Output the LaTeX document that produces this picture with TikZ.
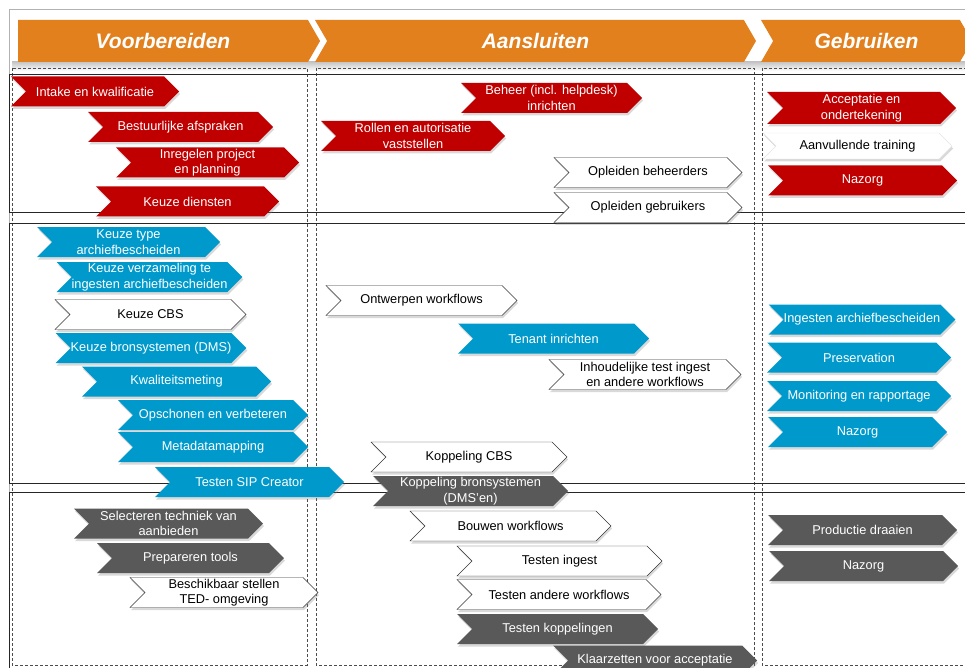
\documentclass[tikz,border=0pt]{standalone}
\usepackage{fontspec}
\setmainfont{Liberation Sans}
\usepackage{xcolor}
\usetikzlibrary{shapes.symbols, shadows}
\definecolor{phaseorange}{RGB}{226, 128, 30}
\definecolor{taskred}{RGB}{192, 0, 0}
\definecolor{taskblue}{RGB}{0, 153, 204}
\definecolor{taskgray}{RGB}{89, 89, 89}

\begin{document}
\begin{tikzpicture}[
    x=1pt, y=-1pt,
    phase/.style={signal, signal to=east, signal pointer angle=120, fill=phaseorange, text=white, minimum height=42pt, inner sep=0pt, font=\fontsize{21}{24}\selectfont\bfseries\itshape},
    task/.style={signal, signal from=west, signal to=east, signal pointer angle=90, minimum width=188pt, minimum height=30pt, inner xsep=0pt, inner ysep=1pt, align=center, font=\fontsize{12.8}{15.5}\selectfont, drop shadow={opacity=0.3, shadow xshift=1pt, shadow yshift=-2.5pt}},
    redtask/.style={task, fill=taskred, text=white},
    bluetask/.style={task, fill=taskblue, text=white},
    graytask/.style={task, fill=taskgray, text=white},
    whitetask/.style={task, fill=white, draw=black!80, thin},
    lane/.style={draw=black!85, line width=0.7pt},
    column/.style={draw=black!70, densely dashed, line width=0.6pt}
]
\useasboundingbox (0,0) rectangle (965,668);
\clip (0,0) rectangle (965,668);

% Frame, lanes and columns
\draw[gray!60, line width=0.8pt] (9,9) rectangle (980,690);
\shade[top color=gray!45, bottom color=white] (12,62) rectangle (965,71);
\draw[column] (12,68) rectangle (307,665);
\draw[column] (316,68) rectangle (754,665);
\draw[column] (762,68) rectangle (980,665);
\draw[lane] (9,74) rectangle (980,212);
\draw[lane] (9,223) rectangle (980,483);
\draw[lane] (9,492) rectangle (980,690);

% Phases
\node[phase, minimum width=302pt] (voorbereiden) at (163,41) {Voorbereiden};
\node[phase, signal from=west, minimum width=441pt] (aansluiten) at (535.5,41) {Aansluiten};
\node[phase, signal from=west, minimum width=211pt] (gebruiken) at (866.5,41) {Gebruiken};

% Voorbereiden
\node[redtask, minimum width=168pt] (intake) at (95,91.5) {Intake en kwalificatie};
\node[redtask, minimum width=185pt] (bestuur) at (180.5,127) {Bestuurlijke afspraken};
\node[redtask, minimum width=183pt] (inregelen) at (207.5,162.5) {Inregelen project\\en planning};
\node[redtask, minimum width=183pt] (diensten) at (187.5,201.5) {Keuze diensten};
\node[bluetask, minimum width=183pt] (type) at (128.5,242) {Keuze type\\archiefbescheiden};
\node[bluetask, minimum width=185pt] (verzameling) at (149.5,277) {Keuze verzameling te\\ingesten archiefbescheiden};
\node[whitetask, minimum width=191pt] (cbs) at (150.5,314.5) {Keuze CBS};
\node[bluetask, minimum width=190pt] (bron) at (151,348) {Keuze bronsystemen (DMS)};
\node[bluetask, minimum width=189pt] (kwaliteit) at (176.5,381.5) {Kwaliteitsmeting};
\node[bluetask, minimum width=190pt] (opschonen) at (213,415) {Opschonen en verbeteren};
\node[bluetask, minimum width=190pt] (mapping) at (213,447) {Metadatamapping};
\node[bluetask, minimum width=189pt] (sip) at (249.5,482) {Testen SIP Creator};
\node[graytask, minimum width=189pt] (selecteren) at (168.5,523.5) {Selecteren techniek van\\aanbieden};
\node[graytask, minimum width=187pt] (tools) at (190.5,558) {Prepareren tools};
\node[whitetask, minimum width=188pt] (ted) at (224,592.5) {Beschikbaar stellen\\TED- omgeving};

% Aansluiten
\node[redtask, minimum width=181pt] (beheer) at (551.5,98) {Beheer (incl. helpdesk)\\inrichten};
\node[redtask, minimum width=184pt] (rollen) at (413,136) {Rollen en autorisatie\\vaststellen};
\node[whitetask, minimum width=188pt] (beheerders) at (648,172.5) {Opleiden beheerders};
\node[whitetask, minimum width=188pt] (gebruikers) at (648,207.5) {Opleiden gebruikers};
\node[whitetask, minimum width=191pt] (ontwerpen) at (421.5,300.5) {Ontwerpen workflows};
\node[bluetask, minimum width=191pt] (tenant) at (553.5,338.5) {Tenant inrichten};
\node[whitetask, minimum width=192pt] (inhoud) at (645,374.5) {Inhoudelijke test ingest\\en andere workflows};
\node[whitetask, minimum width=196pt] (koppcbs) at (469,457) {Koppeling CBS};
\node[graytask, minimum width=195pt] (koppbron) at (470.5,491) {Koppeling bronsystemen\\(DMS’en)};
\node[whitetask, minimum width=201pt] (bouwen) at (510.5,526) {Bouwen workflows};
\node[whitetask, minimum width=205pt] (ingest) at (559.5,561) {Testen ingest};
\node[whitetask, minimum width=204pt] (andere) at (559,594.5) {Testen andere workflows};
\node[graytask, minimum width=201pt] (koppelingen) at (557.5,629) {Testen koppelingen};
\node[graytask, minimum width=204pt] (klaarzetten) at (655,660.5) {Klaarzetten voor acceptatie};

% Gebruiken
\node[redtask, minimum width=189pt, minimum height=32pt] (acceptatie) at (861.5,108) {Acceptatie en\\ondertekening};
\node[whitetask, draw=gray!20, minimum width=189pt, minimum height=26pt] (training) at (857.5,146) {Aanvullende training};
\node[redtask, minimum width=189pt] (nazorgrood) at (862.5,180.5) {Nazorg};
\node[bluetask, minimum width=182pt] (archief) at (862,319.5) {Ingesten archiefbescheiden};
\node[bluetask, minimum width=184pt] (preservation) at (859,357.5) {Preservation};
\node[bluetask, minimum width=184pt] (monitoring) at (859,396) {Monitoring en rapportage};
\node[bluetask, minimum width=179pt] (nazorgblauw) at (857.5,432) {Nazorg};
\node[graytask, minimum width=189pt] (productie) at (862.5,530) {Productie draaien};
\node[graytask, minimum width=189pt] (nazorggrijs) at (863.5,566) {Nazorg};

\end{tikzpicture}
\end{document}
